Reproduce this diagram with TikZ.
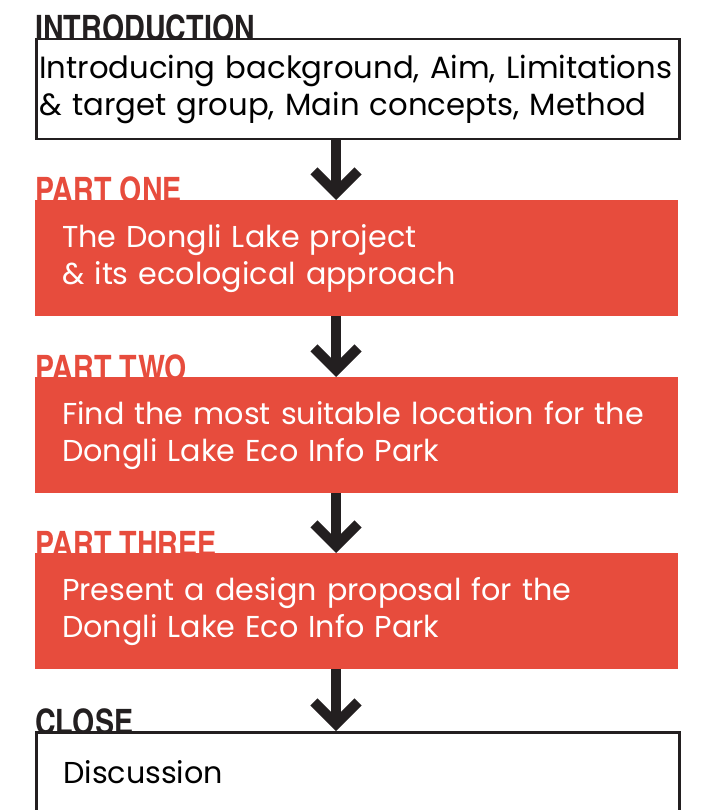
\documentclass[tikz,border=0pt]{standalone}
\usepackage{fontspec}
\setmainfont{Poppins}
\newfontfamily\headfont{texgyreheroscn-bold.otf}
\usetikzlibrary{arrows.meta}
\definecolor{partred}{RGB}{231,76,61}
\definecolor{arrowblack}{RGB}{35,31,32}

\tikzstyle{heading} = [anchor=base west, inner sep=0pt, font=\headfont\fontsize{35}{35}\selectfont]
\tikzstyle{block} = [anchor=north west, minimum width=643pt, align=left]
\tikzstyle{outlined} = [block, draw=arrowblack, line width=2.5pt, fill=white, text=black]
\tikzstyle{redblock} = [block, fill=partred, text=white, inner xsep=27pt, text width=589pt, minimum height=116pt, font=\fontsize{30.2}{37}\selectfont]
\tikzstyle{stepdown} = [draw=arrowblack, line width=10pt, -{Straight Barb[length=22pt, width=44pt, sharp]}]

\begin{document}
\begin{tikzpicture}[x=1pt, y=-1pt]
      \useasboundingbox (0,0) rectangle (706,810);
      % nodes
      \node[heading, text=arrowblack] (introhead) at (35,41) {INTRODUCTION};
      \node[outlined, inner xsep=3pt, text width=637pt, minimum height=100pt, font=\fontsize{30.7}{37}\selectfont] (intro) at (35,38)
        {Introducing background, Aim, Limitations\\\& target group, Main concepts, Method};
      \foreach \nodename/\y/\head/\body in {
        one/200/PART ONE/{The Dongli Lake project\\\& its ecological approach},
        two/377/PART TWO/{Find the most suitable location for the\\Dongli Lake Eco Info Park},
        three/553/PART THREE/{Present a design proposal for the\\Dongli Lake Eco Info Park}}
      {
        \node[heading, text=partred] (\nodename head) at (35,\y+3) {\head};
        \node[redblock] (\nodename) at (35,\y) {\body};
      };
      \node[heading, text=arrowblack] (closehead) at (35,734) {CLOSE};
      \node[outlined, inner xsep=27pt, text width=589pt, inner ysep=27pt, text height=24pt, text depth=70pt, font=\fontsize{30.2}{37}\selectfont] (close) at (35,731) {Discussion};
      %edges
      \foreach \startnode/\endnode in {intro/one, one/two, two/three, three/close}
      {
        \draw[stepdown] ([xshift=301pt]\startnode.south west) -- ([xshift=301pt]\endnode.north west);
      };
\end{tikzpicture}
\end{document}
